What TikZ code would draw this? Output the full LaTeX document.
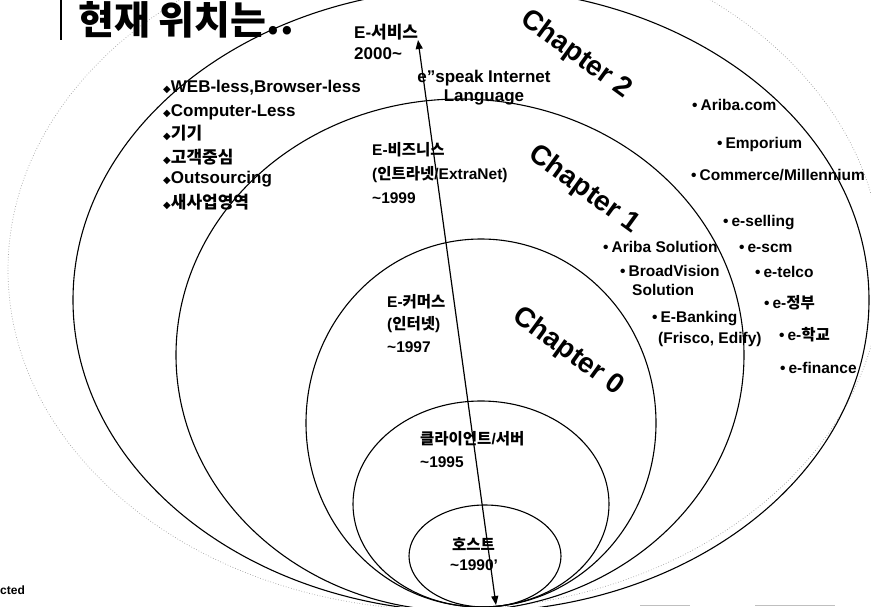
\documentclass[tikz,border=0pt]{standalone}
\usepackage{fontspec}
\setmainfont{Liberation Sans}
\newfontfamily\kr{Noto Sans CJK KR}
\newfontfamily\dv{DejaVu Sans}
\usetikzlibrary{arrows.meta}
\newcommand{\dia}{{\dv\fontsize{10}{10}\selectfont ◆}}
\newcommand{\bul}{•\hspace{3pt}}
\begin{document}
\begin{tikzpicture}[x=1pt,y=-1pt,
  ring/.style={line width=1.1pt},
  faint/.style={gray!75, line width=0.7pt, dotted},
  big/.style={inner sep=0pt, anchor=west, font=\fontsize{17}{19}\selectfont\bfseries},
  lbl/.style={inner sep=0pt, anchor=west, font=\fontsize{15.5}{17}\selectfont\bfseries},
  item/.style={inner sep=0pt, anchor=west, font=\fontsize{15.5}{17}\selectfont\bfseries},
  chap/.style={inner sep=0pt, rotate=-36, font=\fontsize{28}{30}\selectfont\bfseries},
  arr/.style={line width=1.2pt, {Triangle[length=9pt,width=7pt]}-{Triangle[length=9pt,width=7pt]}}]
\useasboundingbox (0,0) rectangle (871,606);

% ellipses
\draw[faint] (445,270) ellipse [x radius=437pt, y radius=340pt];
\draw[ring] (471,300) ellipse [x radius=398pt, y radius=312pt];
\draw[ring] (460,355) ellipse [x radius=284pt, y radius=256pt];
\draw[ring] (481,423) ellipse [x radius=175pt, y radius=184pt];
\draw[ring] (481,504) ellipse [x radius=128pt, y radius=103pt];
\draw[ring] (485,556) ellipse [x radius=76pt, y radius=51pt];

% title
\draw[line width=2pt] (61,0) -- (61,40);
\node[anchor=base west, inner sep=0pt, font=\kr\bfseries\fontsize{39}{42}\selectfont] (title) at (78,34) {현재 위치는..};

% arrow
\coordinate (atop) at (418,40);
\coordinate (abot) at (496,605);
\draw[arr] (abot) -- (atop);

% center labels
\node[big] (s1) at (354,32) {E-{\kr 서비스}};
\node[big] (s2) at (354,54) {2000\textasciitilde};
\node[big, anchor=center, align=center] (esp) at (484,88) {e"speak Internet\\Language};

\node[lbl] (b1) at (372,150) {E-{\kr 비즈니스}};
\node[lbl] (b2) at (372,175) {({\kr 인트라넷}/ExtraNet)};
\node[lbl] (b3) at (372,198) {\textasciitilde1999};

\node[lbl] (c1) at (387,302) {E-{\kr 커머스}};
\node[lbl] (c2) at (387,325) {({\kr 인터넷})};
\node[lbl] (c3) at (387,347) {\textasciitilde1997};

\node[lbl] (d1) at (420,439) {{\kr 클라이언트}/{\kr 서버}};
\node[lbl] (d2) at (420,462) {\textasciitilde1995};

\node[lbl] (h1) at (452,544) {{\kr 호스트}};
\node[lbl] (h2) at (450,565) {\textasciitilde1990'};

% left list
\node[big] (l1) at (163,88) {\dia WEB-less,Browser-less};
\node[big] (l2) at (163,112) {\dia Computer-Less};
\node[big] (l3) at (163,133) {\dia{\kr 기기}};
\node[big] (l4) at (163,157) {\dia{\kr 고객중심}};
\node[big] (l5) at (163,179) {\dia Outsourcing};
\node[big] (l6) at (163,202) {\dia{\kr 새사업영역}};

% chapters
\node[chap] (ch2) at (576,55) {Chapter 2};
\node[chap] (ch1) at (584,190) {Chapter 1};
\node[chap] (ch0) at (568,352) {Chapter 0};

% right items
\node[item] (r1) at (692,105) {\bul Ariba.com};
\node[item] (r2) at (717,144) {\bul Emporium};
\node[item] (r3) at (691,175) {\bul Commerce/Millennium};
\node[item] (r4) at (723,223) {\bul e-selling};
\node[item] (r5) at (603,247) {\bul Ariba Solution};
\node[item] (r6) at (739,248) {\bul e-scm};
\node[item] (r7) at (620,271) {\bul BroadVision};
\node[item] (r7b) at (632,290) {Solution};
\node[item] (r8) at (755,272) {\bul e-telco};
\node[item] (r9) at (764,303) {\bul e-{\kr 정부}};
\node[item] (r10) at (652,319) {\bul E-Banking};
\node[item] (r10b) at (658,339) {(Frisco, Edify)};
\node[item] (r11) at (779,335) {\bul e-{\kr 학교}};
\node[item] (r12) at (780,368) {\bul e-finance};

% bottom fragments
\node[inner sep=0pt, anchor=west, font=\fontsize{12}{14}\selectfont\bfseries] (cut) at (0,590) {cted};
\draw[gray!50, line width=1pt] (640,605) -- (690,605);
\draw[gray!50, line width=1pt] (755,605) -- (835,605);
\end{tikzpicture}
\end{document}
